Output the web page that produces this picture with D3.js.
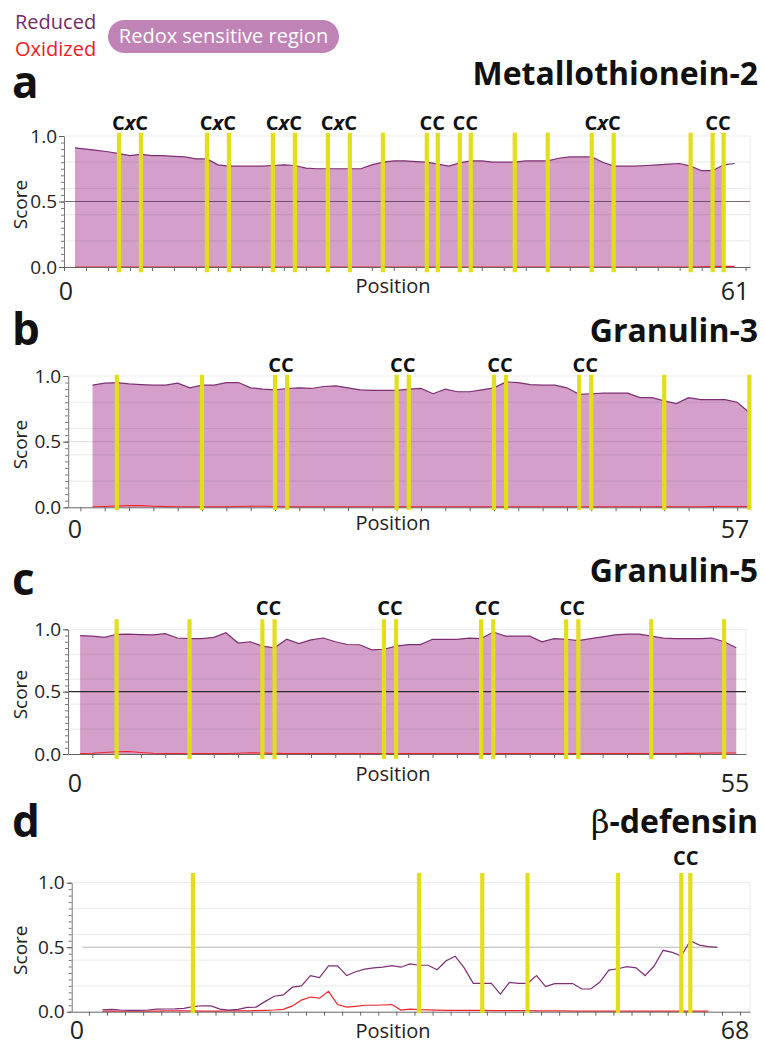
<!DOCTYPE html>
<html>
<head>
<meta charset="utf-8">
<script src="https://cdn.jsdelivr.net/npm/d3@7"></script>
<style>
  body { margin: 0; background: #fff; }
  svg { display: block; font-family: "Open Sans", sans-serif; }
</style>
</head>
<body>
<svg id="chart" width="765" height="1046"></svg>
<script>
// ---- data ----
// a: Metallothionein-2, positions 1..61
const mt2Reduced = [
  .91, .90, .89, .88, .865, .85, .86, .85, .85, .845,
  .84, .825, .825, .78, .77, .77, .77, .77, .775, .78,
  .775, .755, .75, .75, .75, .75, .75, .78, .80, .81,
  .81, .805, .80, .785, .77, .795, .81, .81, .80, .80,
  .80, .81, .81, .81, .83, .84, .84, .84, .80, .77,
  .77, .77, .775, .78, .785, .79, .77, .735, .735, .78,
  .79
];
const mt2Oxidized = [
  0, 0, 0, 0, 0, 0, 0, 0, 0, 0,
  0, 0, 0, 0, 0, 0, 0, 0, 0, 0,
  0, 0, 0, 0, 0, 0, 0, 0, 0, 0,
  0, 0, 0, 0, 0, 0, 0, 0, 0, 0,
  0, 0, 0, 0, 0, 0, 0, 0, 0, 0,
  0, 0, 0, 0, 0, 0, 0, .002, .004, .005,
  .005
];
const mt2Cys = [5, 7, 13, 15, 19, 21, 24, 26, 29, 33, 34, 36, 37, 41, 44, 48, 50, 57, 59, 60];
const mt2Motifs = [["CxC", 5, 7], ["CxC", 13, 15], ["CxC", 19, 21], ["CxC", 24, 26],
  ["CC", 33, 34], ["CC", 36, 37], ["CxC", 48, 50], ["CC", 59, 60]];

// b: Granulin-3, positions 2..56
const grn3Reduced = [
  .93, .945, .95, .94, .935, .93, .93, .945, .91, .93,
  .93, .95, .95, .91, .90, .895, .905, .91, .905, .92,
  .925, .91, .895, .89, .89, .89, .90, .905, .865, .90,
  .88, .88, .895, .91, .955, .95, .935, .93, .93, .91,
  .86, .865, .87, .87, .87, .835, .835, .81, .79, .835,
  .82, .82, .82, .80, .72
];
const grn3Oxidized = [
  .004, .006, .01, .013, .012, .008, .005, .004, .004, .004,
  .004, .004, .006, .008, .008, .006, .004, .004, .004, .004,
  .004, .004, .004, .004, .004, .004, .004, .004, .004, .004,
  .004, .004, .004, .004, .004, .004, .004, .004, .004, .004,
  .004, .004, .004, .004, .004, .004, .004, .004, .004, .004,
  .004, .005, .006, .006, .006
];
const grn3Cys = [4, 11, 17, 18, 27, 28, 35, 36, 42, 43, 49, 56];
const grn3Motifs = [["CC", 17, 18], ["CC", 27, 28], ["CC", 35, 36], ["CC", 42, 43]];

// c: Granulin-5, positions 1..55
const grn5Reduced = [
  .95, .945, .935, .96, .962, .958, .955, .965, .93, .925,
  .925, .935, .972, .89, .90, .865, .852, .92, .885, .915,
  .93, .90, .878, .876, .835, .84, .865, .877, .877, .92,
  .92, .92, .93, .925, .978, .945, .945, .945, .90, .925,
  .92, .91, .925, .94, .955, .962, .962, .945, .93, .925,
  .925, .925, .93, .90, .852
];
const grn5Oxidized = [
  .004, .006, .012, .018, .02, .012, .006, .004, .004, .004,
  .004, .004, .004, .006, .01, .008, .005, .004, .004, .004,
  .004, .004, .004, .004, .004, .004, .004, .004, .004, .004,
  .004, .004, .004, .004, .004, .004, .004, .004, .004, .004,
  .004, .004, .004, .004, .004, .004, .004, .004, .004, .004,
  .005, .006, .008, .008, .008
];
const grn5Cys = [4, 10, 16, 17, 26, 27, 34, 35, 41, 42, 48, 54];
const grn5Motifs = [["CC", 16, 17], ["CC", 26, 27], ["CC", 34, 35], ["CC", 41, 42]];

// d: beta-defensin, reduced positions 3..71, oxidized 3..70
const defReduced = [
  .015, .018, .013, .01, .011, .013, .02, .021, .022, .026,
  .04, .046, .045, .02, .013, .018, .034, .036, .08, .12,
  .13, .19, .20, .28, .265, .355, .355, .28, .31, .33,
  .34, .345, .357, .345, .37, .36, .36, .325, .395, .43,
  .34, .22, .22, .22, .137, .227, .22, .22, .28, .195,
  .218, .218, .218, .176, .176, .23, .323, .333, .349, .34,
  .28, .354, .476, .46, .432, .55, .516, .505, .498
];
const defOxidized = [
  .005, .005, .004, .004, .005, .005, .005, .006, .006, .006,
  .006, .005, .005, .005, .006, .006, .007, .008, .01, .013,
  .018, .045, .09, .114, .105, .158, .055, .035, .042, .05,
  .05, .052, .055, .013, .02, .016, .014, .012, .01, .01,
  .01, .01, .01, .009, .009, .009, .009, .008, .006, .006,
  .006, .006, .005, .005, .005, .005, .005, .005, .005, .005,
  .005, .005, .005, .005, .005, .005, .005, .005
];
const defCys = [13, 38, 45, 50, 60, 67, 68];
const defMotifs = [["CC", 67, 68]];

const yLabelTicks = [0, 0.5, 1];

// ---- layout per panel ----
const panels = [
  { letter: "a", title: "Metallothionein-2", endLabel: "61",
    reduced: mt2Reduced, redStart: 1, oxidized: mt2Oxidized, oxStart: 1, fillEnd: 60,
    cys: mt2Cys, motifs: mt2Motifs,
    xDomain: [0, 62.4], xRange: [64, 750], yRange: [267, 136], tick0: 0,
    barTop: 1.025, barBottom: -0.04, mid: "rgba(70,40,70,0.7)", midFull: true,
    letterY: 98, titleY: 85, motifY: 130, posY: 293, numY: 300, zeroX: 66 },
  { letter: "b", title: "Granulin-3", endLabel: "57",
    reduced: grn3Reduced, redStart: 2, oxidized: grn3Oxidized, oxStart: 2, fillEnd: 56,
    cys: grn3Cys, motifs: grn3Motifs,
    xDomain: [0, 56.05], xRange: [68.2, 750], yRange: [507.3, 376], tick0: 1,
    barTop: 1.01, barBottom: -0.02, mid: "rgba(90,40,90,0.15)", midFull: true,
    letterY: 345, titleY: 342, motifY: 372, posY: 530, numY: 538, zeroX: 75 },
  { letter: "c", title: "Granulin-5", endLabel: "55",
    reduced: grn5Reduced, redStart: 1, oxidized: grn5Oxidized, oxStart: 1, fillEnd: 55,
    cys: grn5Cys, motifs: grn5Motifs,
    xDomain: [0, 55.8], xRange: [68, 746], yRange: [754, 629.3], tick0: 2,
    barTop: 1.08, barBottom: -0.04, mid: "#2a2a2a", midFull: true,
    letterY: 595, titleY: 582, motifY: 615, posY: 781, numY: 792, zeroX: 75 },
  { letter: "d", title: "-defensin", endLabel: "68",
    reduced: defReduced, redStart: 3, oxidized: defOxidized, oxStart: 3, fillEnd: null,
    cys: defCys, motifs: defMotifs,
    xDomain: [-0.4, 74.6], xRange: [71.7, 750], yRange: [1011.7, 882.7], tick0: 1.5,
    barTop: 1.075, barBottom: -0.01, mid: "#b5b5b5", midFull: false,
    letterY: 837, titleY: 833, motifY: 865, posY: 1038, numY: 1039, zeroX: 77 }
];

const svg = d3.select("#chart");

// ---- legend ----
svg.append("text").attr("x", 15).attr("y", 29)
  .attr("font-size", 20).attr("fill", "#6e2d6a").text("Reduced");
svg.append("text").attr("x", 15).attr("y", 56)
  .attr("font-size", 20).attr("fill", "#ed1c24").text("Oxidized");
svg.append("rect").attr("x", 108).attr("y", 20).attr("width", 231).attr("height", 33)
  .attr("rx", 16.5).attr("fill", "#bf83b6");
svg.append("text").attr("x", 223.5).attr("y", 43).attr("text-anchor", "middle")
  .attr("font-size", 20).attr("fill", "#fff").text("Redox sensitive region");

panels.forEach(p => {
  const g = svg.append("g");
  const x = d3.scaleLinear().domain(p.xDomain).range(p.xRange);
  const y = d3.scaleLinear().domain([0, 1]).range(p.yRange);
  const [left, right] = p.xRange;

  const red = p.reduced.map((v, i) => ({ pos: i + p.redStart, v }));
  const ox = p.oxidized.map((v, i) => ({ pos: i + p.oxStart, v }));

  // area under the reduced score
  if (p.fillEnd != null) {
    const area = d3.area().x(d => x(d.pos)).y0(y(0)).y1(d => y(d.v));
    g.append("path").datum(red.filter(d => d.pos <= p.fillEnd))
      .attr("d", area).attr("fill", "#d4a0c9");
  }

  // grid
  g.selectAll(".grid").data([0.2, 0.4, 0.6, 0.8, 1.0]).enter().append("line")
    .attr("x1", left).attr("x2", right)
    .attr("y1", d => y(d)).attr("y2", d => y(d))
    .attr("stroke", "rgba(0,0,0,0.075)").attr("stroke-width", 1.2);
  g.append("line").attr("x1", right).attr("x2", right)
    .attr("y1", y(1)).attr("y2", y(0)).attr("stroke", "rgba(0,0,0,0.08)");

  // 0.5 reference line
  const midX = p.midFull ? [left, right] : [x(red[0].pos) - 20, x(red[red.length - 1].pos)];
  g.append("line").attr("x1", midX[0]).attr("x2", midX[1])
    .attr("y1", y(0.5)).attr("y2", y(0.5))
    .attr("stroke", p.mid).attr("stroke-width", 1.1);

  const line = d3.line().x(d => x(d.pos)).y(d => y(d.v));
  g.append("path").datum(ox).attr("d", line)
    .attr("fill", "none").attr("stroke", "#f2232a").attr("stroke-width", 1.2);
  g.append("path").datum(red).attr("d", line)
    .attr("fill", "none").attr("stroke", "#7d2f74").attr("stroke-width", 1.2);

  // axes
  const yAxisMinor = d3.axisLeft(y).tickValues(d3.range(0, 1.001, 0.05))
    .tickSize(3).tickFormat("").tickSizeOuter(0);
  g.append("g").attr("transform", `translate(${left},0)`).call(yAxisMinor)
    .call(s => s.selectAll("line,path").attr("stroke", "#777"));
  const yAxis = d3.axisLeft(y).tickValues(yLabelTicks)
    .tickSize(5).tickPadding(2).tickFormat(d3.format(".1f")).tickSizeOuter(0);
  g.append("g").attr("transform", `translate(${left},0)`).call(yAxis)
    .call(s => s.select(".domain").remove())
    .call(s => s.selectAll("line").attr("stroke", "#555"))
    .call(s => s.selectAll("text").attr("font-size", 19).attr("fill", "#222")
      .attr("font-family", "Open Sans, sans-serif"));

  const xAxis = d3.axisBottom(x).tickValues(d3.range(p.tick0, p.xDomain[1], 2))
    .tickSize(4).tickFormat("").tickSizeOuter(0);
  g.append("g").attr("transform", `translate(0,${y(0)})`).call(xAxis)
    .call(s => s.selectAll("line,path").attr("stroke", "#666"));

  // cysteine bars
  g.selectAll(".cys").data(p.cys).enter().append("line")
    .attr("x1", d => x(d)).attr("x2", d => x(d))
    .attr("y1", y(p.barTop)).attr("y2", y(p.barBottom))
    .attr("stroke", "#e3de1a").attr("stroke-width", 4.2);

  // motif labels
  p.motifs.forEach(([lab, a, b]) => {
    const t = g.append("text").attr("x", x((a + b) / 2)).attr("y", p.motifY)
      .attr("text-anchor", "middle").attr("font-size", 20).attr("font-weight", 700)
      .attr("fill", "#111");
    if (lab === "CxC") {
      t.append("tspan").text("C");
      t.append("tspan").attr("font-style", "italic").text("x");
      t.append("tspan").text("C");
    } else {
      t.text(lab);
    }
  });

  // axis titles and end labels
  g.append("text").attr("transform", `translate(27,${(y(0) + y(1)) / 2 + 3}) rotate(-90)`)
    .attr("text-anchor", "middle").attr("font-size", 19).attr("fill", "#222").text("Score");
  g.append("text").attr("x", 393).attr("y", p.posY).attr("text-anchor", "middle")
    .attr("font-size", 20).attr("fill", "#222").text("Position");
  g.append("text").attr("x", p.zeroX).attr("y", p.numY).attr("text-anchor", "middle")
    .attr("font-size", 25).attr("fill", "#222").text("0");
  g.append("text").attr("x", 735).attr("y", p.numY).attr("text-anchor", "middle")
    .attr("font-size", 25).attr("fill", "#222").text(p.endLabel);

  // panel letter and title
  g.append("text").attr("x", 12).attr("y", p.letterY)
    .attr("font-size", 44).attr("font-weight", 700).attr("fill", "#111").text(p.letter);
  const title = g.append("text").attr("x", 758).attr("y", p.titleY).attr("text-anchor", "end")
    .attr("font-size", 32).attr("font-weight", 700).attr("fill", "#111");
  if (p.letter === "d") {
    title.append("tspan").attr("font-weight", 400).attr("font-family", "DejaVu Serif, serif").text("β");
    title.append("tspan").text(p.title);
  } else {
    title.text(p.title);
  }
});
</script>
</body>
</html>
